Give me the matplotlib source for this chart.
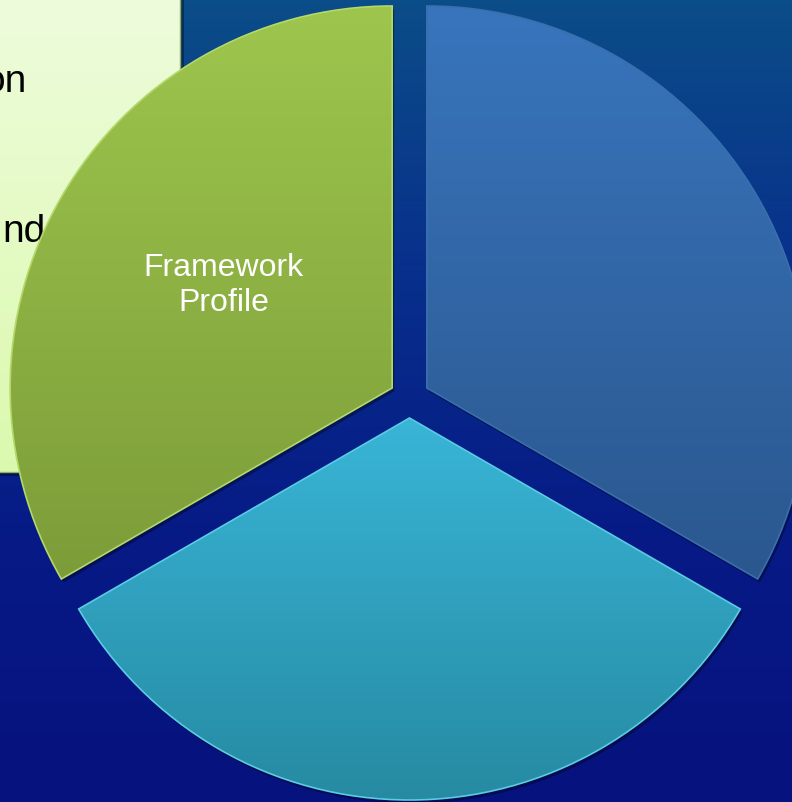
import numpy as np
import matplotlib
matplotlib.use("Agg")
import matplotlib.pyplot as plt
from matplotlib.colors import LinearSegmentedColormap
from matplotlib.patches import Rectangle

plt.rcParams['font.family'] = ['Liberation Sans', 'DejaVu Sans']

# ---- data ----
categories = ["Framework\nProfile", "", ""]
values = [1, 1, 1]
slice_top = ["#9ec64d", "#39b5d7", "#3875bd"]
slice_bottom = ["#7c9c39", "#268aa2", "#2b578e"]
slice_edges = ["#b4d86a", "#5ccbe4", "#3a6fae"]
box_lines = ["on", "nd"]

W, H = 792, 802
fig = plt.figure(figsize=(W / 100, H / 100), dpi=100)
ax = fig.add_axes([0, 0, 1, 1])

# background gradient
bg = LinearSegmentedColormap.from_list("bg", ["#06127e", "#061a86", "#08308c", "#0b4d88"])
grad = np.linspace(0, 1, 256).reshape(-1, 1)
ax.imshow(grad, cmap=bg, extent=[0, W, 0, H], origin="lower", aspect="auto", zorder=0)

# text box (partially covered)
box_cmap = LinearSegmentedColormap.from_list("box", ["#dbf9ae", "#eefcdc"])
ax.add_patch(Rectangle((-10, H - 476), 194, 490, facecolor="black", alpha=0.35, lw=0, zorder=1))
ax.imshow(grad, cmap=box_cmap, extent=[-10, 180, H - 472, H + 5], origin="lower", aspect="auto", zorder=1.5)
ax.add_patch(Rectangle((-10, H - 472), 190, 477, facecolor="none", edgecolor="#8fae6a", lw=1, zorder=1.6))
ax.text(27, H - 82, box_lines[0], fontsize=28, color="black", ha="right", va="center", zorder=1.7)
ax.text(46, H - 232, box_lines[1], fontsize=28, color="black", ha="right", va="center", zorder=1.7)

# pie
cx, cy, R = 409.5, H - 398, 382
wedges, texts = ax.pie(values, labels=categories, colors=slice_top, startangle=90,
                       radius=R, center=(cx, cy), explode=[20, 20, 20],
                       labeldistance=0.51, frame=True,
                       shadow={'ox': 1.5, 'oy': -2.5, 'facecolor': 'black', 'edgecolor': 'none', 'alpha': 0.35},
                       wedgeprops={'linewidth': 1.2},
                       textprops={'color': 'white', 'fontsize': 23})
for w, top, bot, ec in zip(wedges, slice_top, slice_bottom, slice_edges):
    cm = LinearSegmentedColormap.from_list("w", [bot, top])
    bb = w.get_path().get_extents()
    im = ax.imshow(grad, cmap=cm, extent=[bb.x0, bb.x1, bb.y0, bb.y1],
                   origin="lower", aspect="auto", zorder=3)
    im.set_clip_path(w)
    w.set_facecolor("none")
    w.set_edgecolor(ec)
    w.set_zorder(4)
for t in texts:
    t.set_ha("center")
    t.set_va("center")
    t.set_multialignment("center")
    t.set_zorder(5)
texts[0].set_y(texts[0].get_position()[1] + 5)

ax.set_xlim(0, W)
ax.set_ylim(0, H)
ax.set_aspect("auto")
ax.axis("off")
fig.savefig("out.png", dpi=100)
